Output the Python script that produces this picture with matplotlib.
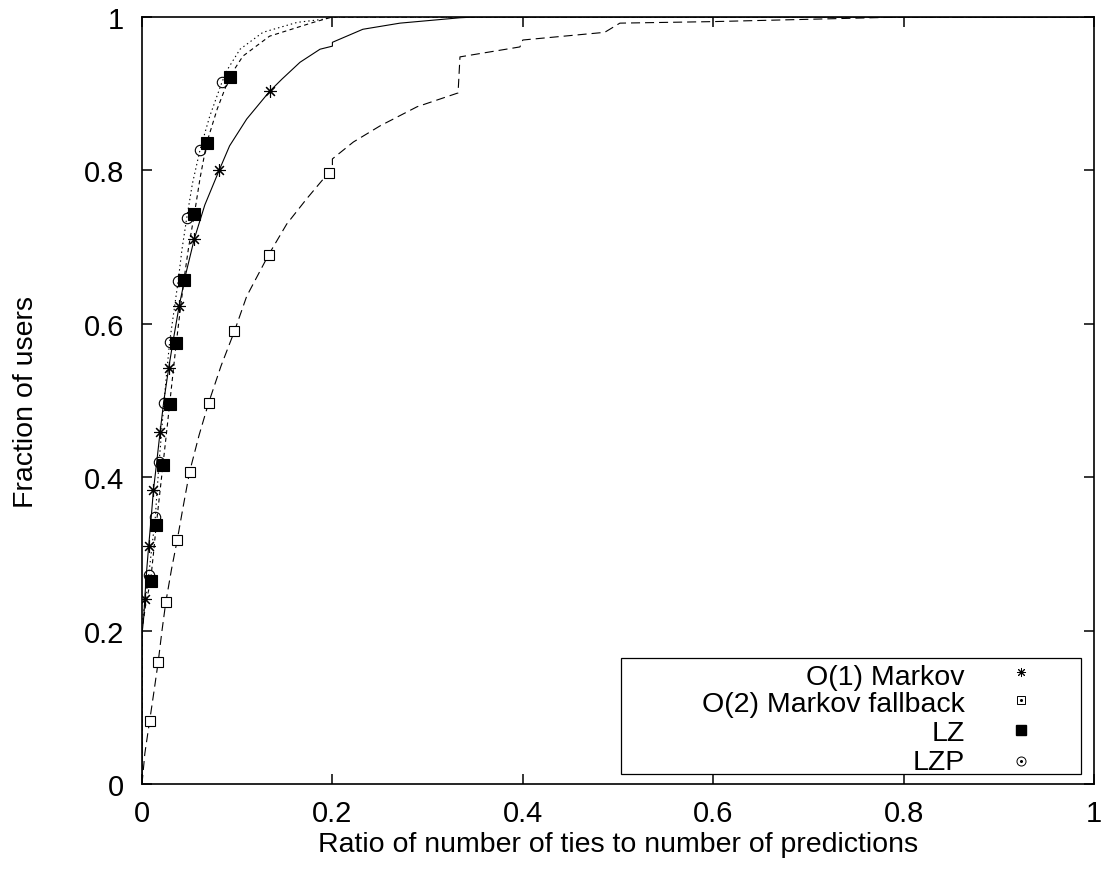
import matplotlib
matplotlib.use("Agg")
import matplotlib.pyplot as plt
from matplotlib.lines import Line2D
from matplotlib.patches import Rectangle

plt.rcParams['font.family'] = ['Liberation Sans', 'DejaVu Sans']
plt.rcParams['lines.scale_dashes'] = False

# ---- data (CDF curves) ----
markov_x = [0, 0, 0.002, 0.003, 0.005, 0.007, 0.0095, 0.012, 0.0155, 0.019, 0.023, 0.028, 0.033,
            0.039, 0.046, 0.055, 0.066, 0.081, 0.092, 0.11, 0.134, 0.147, 0.166, 0.187, 0.2, 0.2,
            0.232, 0.271, 0.334, 0.35, 1.0]
markov_y = [0, 0.195, 0.22, 0.244, 0.28, 0.31, 0.345, 0.383, 0.42, 0.459, 0.50, 0.542, 0.58,
            0.623, 0.665, 0.711, 0.755, 0.80, 0.832, 0.867, 0.903, 0.919, 0.941, 0.958, 0.962, 0.967,
            0.984, 0.992, 0.999, 1.0, 1.0]

fallback_x = [0, 0.003, 0.008, 0.0125, 0.017, 0.021, 0.025, 0.031, 0.037, 0.043, 0.05, 0.06, 0.07,
              0.083, 0.097, 0.11, 0.133, 0.152, 0.173, 0.196, 0.2, 0.2, 0.222, 0.25, 0.289, 0.332,
              0.334, 0.397, 0.4, 0.486, 0.502, 0.6, 0.7, 0.8, 1.0]
fallback_y = [0, 0.04, 0.082, 0.12, 0.159, 0.2, 0.237, 0.28, 0.318, 0.36, 0.407, 0.455, 0.497,
              0.545, 0.59, 0.636, 0.69, 0.73, 0.763, 0.797, 0.80, 0.815, 0.837, 0.858, 0.883, 0.901,
              0.948, 0.961, 0.97, 0.980, 0.992, 0.994, 0.997, 1.0, 1.0]

lz_x = [0, 0, 0.004, 0.009, 0.012, 0.015, 0.0185, 0.022, 0.0255, 0.029, 0.0325, 0.036, 0.04,
        0.044, 0.049, 0.055, 0.061, 0.068, 0.079, 0.092, 0.106, 0.134, 0.18, 0.2, 1.0]
lz_y = [0, 0.2, 0.235, 0.265, 0.30, 0.338, 0.377, 0.416, 0.455, 0.495, 0.535, 0.575, 0.616,
        0.657, 0.70, 0.743, 0.79, 0.836, 0.88, 0.922, 0.949, 0.975, 0.993, 1.0, 1.0]

lzp_x = [0, 0, 0.004, 0.007, 0.0105, 0.014, 0.016, 0.018, 0.0205, 0.023, 0.026, 0.029, 0.0335,
         0.038, 0.042, 0.047, 0.053, 0.061, 0.071, 0.084, 0.089, 0.103, 0.127, 0.163, 0.19, 0.2, 1.0]
lzp_y = [0, 0.21, 0.245, 0.272, 0.31, 0.348, 0.385, 0.42, 0.458, 0.497, 0.537, 0.576, 0.616,
         0.656, 0.697, 0.738, 0.783, 0.827, 0.87, 0.915, 0.93, 0.958, 0.98, 0.993, 0.997, 1.0, 1.0]

# ---- marker points ----
markov_mx = [0.003, 0.007, 0.012, 0.019, 0.028, 0.039, 0.055, 0.081, 0.134]
markov_my = [0.241, 0.31, 0.383, 0.459, 0.542, 0.623, 0.711, 0.80, 0.903]
fallback_mx = [0.008, 0.017, 0.025, 0.037, 0.05, 0.07, 0.097, 0.133, 0.196]
fallback_my = [0.082, 0.159, 0.237, 0.318, 0.407, 0.497, 0.59, 0.69, 0.797]
lz_mx = [0.009, 0.015, 0.022, 0.029, 0.036, 0.044, 0.055, 0.068, 0.092]
lz_my = [0.265, 0.338, 0.416, 0.495, 0.575, 0.657, 0.743, 0.836, 0.922]
lzp_mx = [0.007, 0.014, 0.018, 0.023, 0.029, 0.038, 0.047, 0.061, 0.084]
lzp_my = [0.272, 0.348, 0.42, 0.497, 0.576, 0.656, 0.738, 0.827, 0.915]

labels = ["O(1) Markov", "O(2) Markov fallback", "LZ", "LZP"]
xticks = [0, 0.2, 0.4, 0.6, 0.8, 1]
xticklabels = ["0", "0.2", "0.4", "0.6", "0.8", "1"]
yticks = [0, 0.2, 0.4, 0.6, 0.8, 1]
yticklabels = ["0", "0.2", "0.4", "0.6", "0.8", "1"]

W, H = 1113, 878
fig = plt.figure(figsize=(W / 100, H / 100), dpi=100)
ax = fig.add_axes([142 / W, 1 - 785 / H, (1094 - 142) / W, (785 - 18) / H])

lw = 0.8
ax.plot(markov_x, markov_y, color='black', lw=lw, ls='-')
ax.plot(fallback_x, fallback_y, color='black', lw=lw, dashes=(6.5, 3.6))
ax.plot(lz_x, lz_y, color='black', lw=lw, dashes=(3.0, 2.5))
ax.plot(lzp_x, lzp_y, color='black', lw=lw, dashes=(1.0, 2.2))

ast = (8, 2, 0)
ax.plot(markov_mx, markov_my, ls='none', marker=ast, ms=9, mec='black', mew=0.8)
ax.plot(fallback_mx, fallback_my, ls='none', marker='s', ms=7.5, mfc='white', mec='black', mew=0.8)
ax.plot(lz_mx, lz_my, ls='none', marker='s', ms=8.5, mfc='black', mec='black', mew=0.8)
ax.plot(lzp_mx, lzp_my, ls='none', marker='o', ms=7.5, mfc='none', mec='black', mew=0.8)

ax.set_xlim(0, 1)
ax.set_ylim(0, 1)
ax.set_xticks(xticks)
ax.set_xticklabels(xticklabels)
ax.set_yticks(yticks)
ax.set_yticklabels(yticklabels)
fs = 21
lfs = 20.5
ax.tick_params(axis='both', direction='in', length=7.2, width=1.1, top=True, right=True,
               labelsize=fs)
ax.tick_params(axis='x', pad=10.5)
ax.tick_params(axis='y', pad=13)
for s in ax.spines.values():
    s.set_linewidth(1.2)

ax.set_xlabel("Ratio of number of ties to number of predictions", fontsize=lfs, labelpad=3)
ax.set_ylabel("Fraction of users", fontsize=lfs, labelpad=32)

# ---- legend (drawn as decoration: frame, right-aligned labels, key symbols) ----
fig.add_artist(Rectangle((621 / W, 1 - 775 / H), (1081 - 621) / W, (775 - 659) / H,
                         transform=fig.transFigure, fill=False, ec='black', lw=0.9))
text_right = 965
key_x = 1021
baselines = [685, 712, 741, 770]
key_y = [673, 701, 731, 762]
key_styles = [
    dict(marker=ast, ms=6.5, mec='black', mew=0.7),
    dict(marker='s', ms=6, mfc='white', mec='black', mew=0.7),
    dict(marker='s', ms=7.5, mfc='black', mec='black'),
    dict(marker='o', ms=6.5, mfc='white', mec='black', mew=0.7),
]
for lab, bl, ky, st in zip(labels, baselines, key_y, key_styles):
    fig.text(text_right / W, 1 - bl / H, lab, ha='right', va='baseline', fontsize=lfs)
    fig.add_artist(Line2D([key_x / W], [1 - ky / H], ls='none', transform=fig.transFigure, **st))
    if st['marker'] in ('s', 'o') and st['mfc'] == 'white':
        fig.add_artist(Line2D([key_x / W], [1 - ky / H], ls='none', marker='o', ms=1.2,
                              color='black', transform=fig.transFigure))

fig.savefig("out.png", dpi=100)
